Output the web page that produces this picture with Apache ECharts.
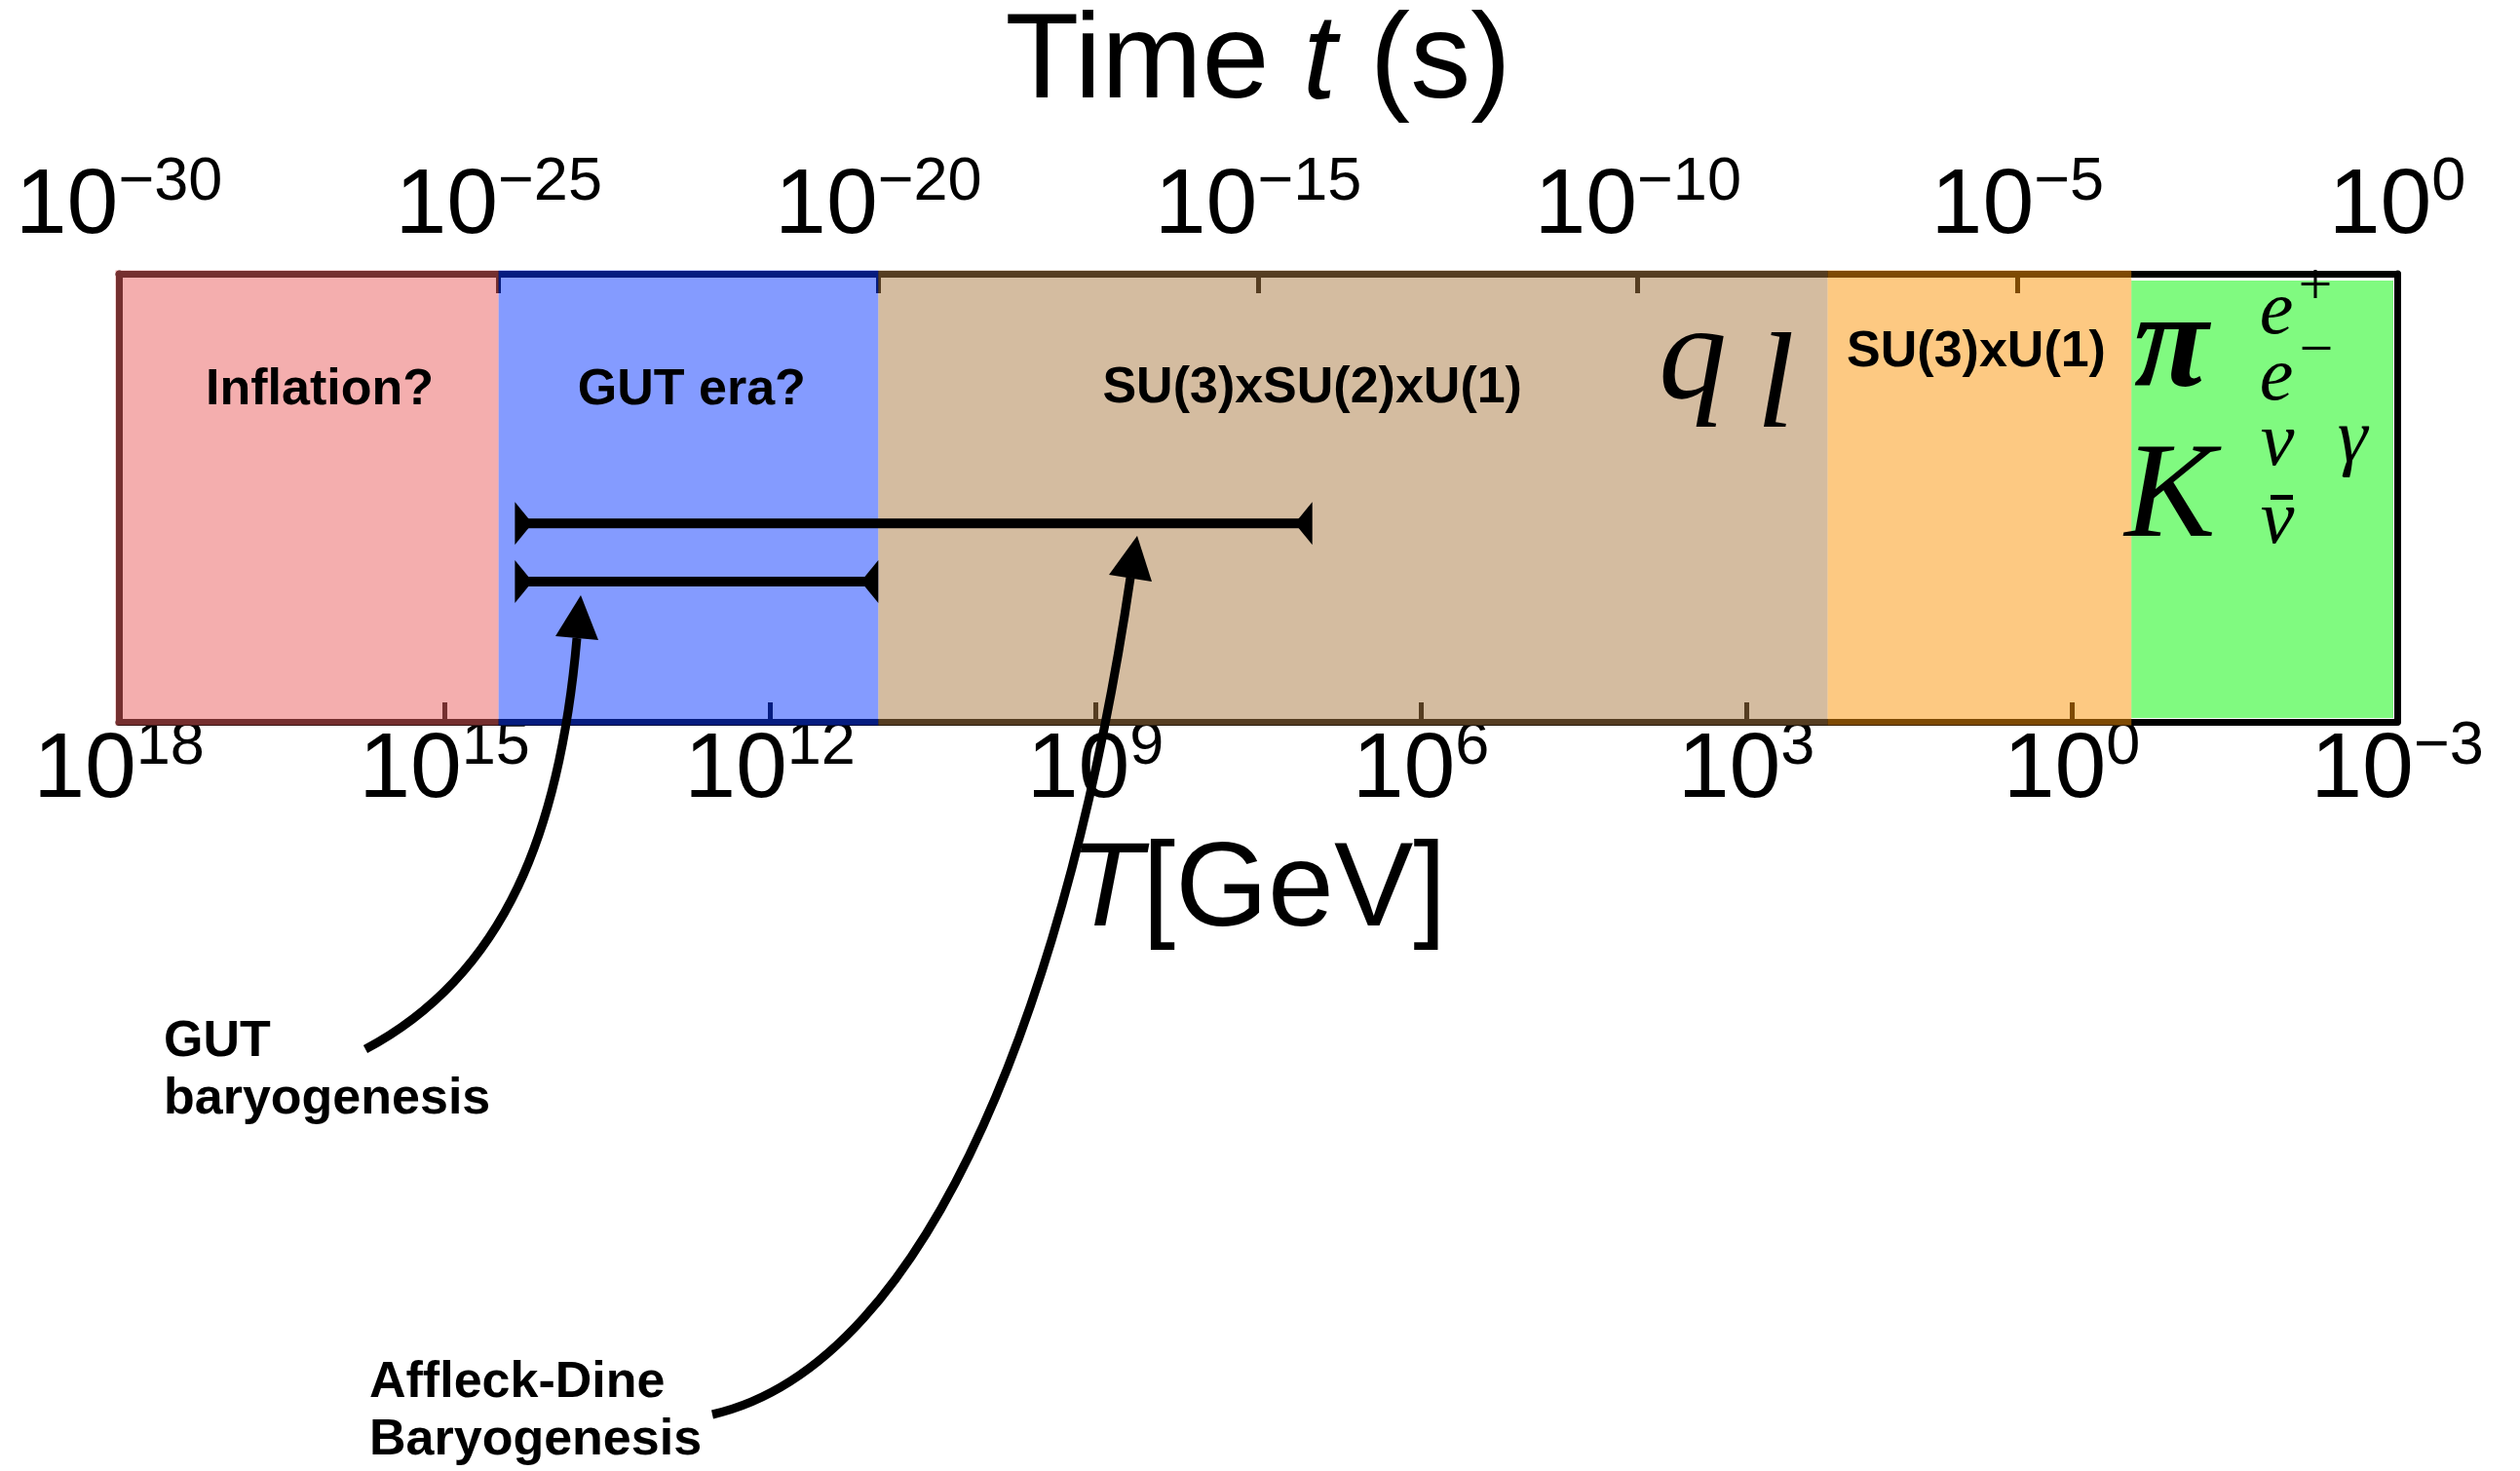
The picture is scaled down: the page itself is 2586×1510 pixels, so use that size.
<!DOCTYPE html>
<html><head><meta charset="utf-8">
<script src="https://cdn.jsdelivr.net/npm/echarts@6/dist/echarts.min.js"></script>
<style>html,body{margin:0;padding:0;background:#fff}#c{width:2586px;height:1510px}</style>
</head><body><div id="c"></div>
<script>
// ---------------- data ----------------
// Cosmic eras, bounded in log10(T / GeV)
const regionNames = ['Inflation?', 'GUT era?', 'SU(3)xSU(2)xU(1)', 'SU(3)xU(1)', ''];
const regionStartLogT = [18, 14.5, 11.0, 2.25, -0.55];
const regionEndLogT   = [14.5, 11.0, 2.25, -0.55, -3];
// Baryogenesis temperature ranges, log10(T / GeV)
const baryoNames   = ['Affleck-Dine Baryogenesis', 'GUT baryogenesis'];
const baryoHighLogT = [14.35, 14.35];
const baryoLowLogT  = [7.0, 11.0];
// Tick labels (exponents of 10)
const timeTickExponents = [-30, -25, -20, -15, -10, -5, 0];
const tempTickExponents = [18, 15, 12, 9, 6, 3, 0, -3];

// ---------------- styling / layout ----------------
const SANS = '"Liberation Sans", Arial, Helvetica, sans-serif';
const SERIF = '"Liberation Serif", "Times New Roman", serif';
const regionColors = ['rgba(233,93,93,0.5)', 'rgba(9,55,255,0.5)', 'rgba(169,121,65,0.5)', 'rgba(251,147,5,0.5)', 'rgba(1,245,1,0.5)'];
const regionInset = [false, false, false, false, true];
const regionLabelLogT = [16.15, 12.72, 7.0, 0.88, 0];
const regionLabelY = [401, 401, 399, 362, 0];
const barLevels = [44.3, 31.3]; // vertical level of each range bar, % of box height

function supLabel(v) {
  const s = v < 0 ? '\u2212' + (-v) : String(v);
  return '{b|10}{e|' + s + '}';
}
const tickRich = {
  b: { fontFamily: SANS, fontSize: 95, lineHeight: 80, color: '#000' },
  e: { fontFamily: SANS, fontSize: 63, height: 30, lineHeight: 30, verticalAlign: 'top', color: '#000' }
};
const step = a => Math.abs(a[1] - a[0]);

const chart = echarts.init(document.getElementById('c'), null, { renderer: 'canvas' });

const frameLine = { show: true, onZero: false, lineStyle: { color: '#000', width: 7 } };
const innerTick = { show: true, inside: true, length: 20, lineStyle: { color: '#000', width: 5 } };

const textEl = (text, x, y, font, align) => ({
  type: 'text', z: 100, silent: true,
  style: { text, x, y, font, fill: '#000', align: align || 'center', verticalAlign: 'middle',
           textAlign: align || 'center', textVerticalAlign: 'middle' }
});

const option = {
  animation: false,
  backgroundColor: '#fff',
  grid: { left: 122, right: 126, top: 281, bottom: 769, containLabel: false },
  xAxis: [
    {
      type: 'value', position: 'bottom', inverse: true,
      min: Math.min(...tempTickExponents), max: Math.max(...tempTickExponents),
      interval: step(tempTickExponents),
      axisLine: frameLine, axisTick: innerTick, splitLine: { show: false },
      axisLabel: { margin: 10.5, formatter: supLabel, rich: tickRich, hideOverlap: false, showMinLabel: true, showMaxLabel: true },
      name: '{i|T}{a|[GeV]}', nameLocation: 'middle', nameGap: 110, nameMoveOverlap: false,
      nameTextStyle: {
        color: '#000', fontFamily: SANS, fontSize: 122,
        rich: {
          i: { fontFamily: SANS, fontSize: 122, fontStyle: 'italic', lineHeight: 130, color: '#000' },
          a: { fontFamily: SANS, fontSize: 122, lineHeight: 130, color: '#000' }
        }
      }
    },
    {
      type: 'value', position: 'top',
      min: Math.min(...timeTickExponents), max: Math.max(...timeTickExponents),
      interval: step(timeTickExponents),
      axisLine: frameLine, axisTick: innerTick, splitLine: { show: false },
      axisLabel: { margin: 28.5, formatter: supLabel, rich: tickRich, hideOverlap: false, showMinLabel: true, showMaxLabel: true },
      name: '{a|Time }{i|t}{a| (s)}', nameLocation: 'middle', nameGap: 150, nameMoveOverlap: false,
      nameTextStyle: {
        color: '#000', fontFamily: SANS, fontSize: 124,
        rich: {
          i: { fontFamily: SANS, fontSize: 124, fontStyle: 'italic', lineHeight: 130, color: '#000' },
          a: { fontFamily: SANS, fontSize: 124, lineHeight: 130, color: '#000' }
        }
      }
    }
  ],
  yAxis: [
    { type: 'value', position: 'left', min: 0, max: 100, axisLine: frameLine,
      axisTick: { show: false }, axisLabel: { show: false }, splitLine: { show: false } },
    { type: 'value', position: 'right', min: 0, max: 100, axisLine: frameLine,
      axisTick: { show: false }, axisLabel: { show: false }, splitLine: { show: false } }
  ],
  series: [
    {
      type: 'custom', name: 'eras', xAxisIndex: 0, yAxisIndex: 0, z: 2, clip: false, silent: true,
      data: regionStartLogT.map((s, i) => [s, regionEndLogT[i], i]),
      renderItem(params, api) {
        const i = api.value(2);
        const xa = api.coord([api.value(0), 0])[0];
        const xb = api.coord([api.value(1), 0])[0];
        const cs = params.coordSys;
        let left = Math.min(xa, xb), right = Math.max(xa, xb);
        let top = cs.y - 3.5, bot = cs.y + cs.height + 3.5;
        if (regionInset[i]) { top = cs.y + 7; bot = cs.y + cs.height - 4; right -= 4; }
        else if (left <= cs.x + 0.5) { left -= 3.5; }
        const children = [{ type: 'rect', shape: { x: left, y: top, width: right - left, height: bot - top },
                            style: { fill: regionColors[i] } }];
        if (regionNames[i]) {
          const lx = api.coord([regionLabelLogT[i], 0])[0];
          children.push({ type: 'text', z2: 5,
            style: { text: regionNames[i], x: lx, y: regionLabelY[i], font: 'bold 52px ' + SANS,
                     fill: '#000', align: 'center', verticalAlign: 'middle' } });
        }
        return { type: 'group', children };
      }
    },
    {
      type: 'custom', name: 'baryogenesis', xAxisIndex: 0, yAxisIndex: 0, z: 3, clip: false, silent: true,
      data: baryoHighLogT.map((h, i) => [h, baryoLowLogT[i], i]),
      renderItem(params, api) {
        const i = api.value(2);
        const pa = api.coord([api.value(0), barLevels[i]]);
        const pb = api.coord([api.value(1), barLevels[i]]);
        const y = pa[1];
        const L = Math.min(pa[0], pb[0]), R = Math.max(pa[0], pb[0]);
        const h = 22, d = 18;
        return { type: 'group', children: [
          { type: 'line', shape: { x1: L + 5, y1: y, x2: R - 5, y2: y }, style: { stroke: '#000', lineWidth: 10 } },
          { type: 'polygon', shape: { points: [[L, y - h], [L, y + h], [L + d, y]] }, style: { fill: '#000' } },
          { type: 'polygon', shape: { points: [[R, y - h], [R, y + h], [R - d, y]] }, style: { fill: '#000' } }
        ] };
      }
    }
  ],
  graphic: { elements: [
    // quarks & leptons
    textEl('q', 1737, 371, 'italic 140px ' + SERIF),
    textEl('l', 1822, 401, 'italic 140px ' + SERIF),
    // hadrons and light particles
    textEl('\u03C0', 2228, 360, 'italic bold 140px ' + SERIF),
    textEl('K', 2227, 513, 'italic 140px ' + SERIF),
    textEl('e', 2336, 321, 'italic 78px ' + SERIF),
    textEl('+', 2376, 296, '62px ' + SERIF),
    textEl('e', 2336, 389, 'italic 78px ' + SERIF),
    textEl('\u2212', 2377, 362, '62px ' + SERIF),
    textEl('\u03BD', 2337, 456, 'italic 78px ' + SERIF),
    textEl('\u03B3', 2414, 452, 'italic 78px ' + SERIF),
    textEl('\u03BD', 2337, 536, 'italic 78px ' + SERIF),
    { type: 'rect', z: 100, silent: true, shape: { x: 2330, y: 508, width: 23, height: 5 }, style: { fill: '#000' } },
    // annotation labels
    textEl('GUT', 168, 1070, 'bold 52px ' + SANS, 'left'),
    textEl('baryogenesis', 168, 1129, 'bold 52px ' + SANS, 'left'),
    textEl('Affleck-Dine', 379, 1420, 'bold 52px ' + SANS, 'left'),
    textEl('Baryogenesis', 379, 1479, 'bold 52px ' + SANS, 'left'),
    // arrows
    { type: 'bezierCurve', z: 90, silent: true,
      shape: { x1: 375, y1: 1077, cpx1: 520, cpy1: 1000, cpx2: 575, cpy2: 850, x2: 592, y2: 655 },
      style: { stroke: '#000', lineWidth: 9, fill: null } },
    { type: 'polygon', z: 90, silent: true, shape: { points: [[596, 611], [570, 653], [614, 657]] }, style: { fill: '#000' } },
    { type: 'bezierCurve', z: 90, silent: true,
      shape: { x1: 731, y1: 1452, cpx1: 960, cpy1: 1400, cpx2: 1100, cpy2: 1000, x2: 1160, y2: 593 },
      style: { stroke: '#000', lineWidth: 9, fill: null } },
    { type: 'polygon', z: 90, silent: true, shape: { points: [[1167, 550], [1138, 590], [1182, 597]] }, style: { fill: '#000' } }
  ] }
};
chart.setOption(option);
</script></body></html>
